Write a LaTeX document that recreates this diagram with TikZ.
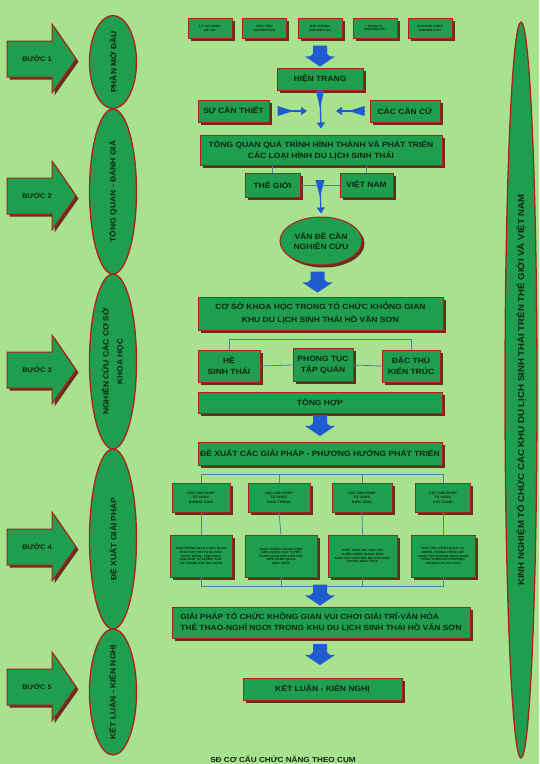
\documentclass[tikz,border=0pt]{standalone}
\usepackage{fontspec}
\setmainfont{Liberation Sans}[FakeStretch=1.12]
\usetikzlibrary{shapes.geometric,shadows,arrows.meta,calc}
\definecolor{bg}{RGB}{168,226,142}
\definecolor{boxg}{RGB}{30,158,78}
\definecolor{bord}{RGB}{175,32,28}
\definecolor{shad}{RGB}{105,45,28}
\definecolor{txt}{RGB}{14,38,14}
\definecolor{arrblue}{RGB}{32,92,208}
\definecolor{lineblue}{RGB}{78,128,165}
\tikzset{
  box/.style={draw=bord, line width=1pt, fill=boxg, text=txt, align=center, inner sep=0pt,
    font=\bfseries\fontsize{7.6}{11}\selectfont,
    drop shadow={shadow xshift=2.5pt, shadow yshift=-2.5pt, fill=shad, opacity=1}},
  tiny/.style={font=\bfseries\fontsize{3}{3.6}\selectfont},
  small/.style={font=\bfseries\fontsize{3.3}{4.2}\selectfont},
  stage/.style={ellipse, draw=bord, line width=1.3pt, fill=boxg, inner sep=0pt},
  stagetext/.style={text=txt, align=center, inner sep=0pt, rotate=90,
    font=\bfseries\fontsize{7.6}{14}\selectfont},
  conn/.style={draw=lineblue, line width=0.8pt},
  trunk/.style={draw=arrblue, line width=1.3pt, -{Triangle[length=6pt,width=8pt]}},
  stepshape/.style={draw=bord, line width=1pt, fill=boxg,
    drop shadow={shadow xshift=2.5pt, shadow yshift=-2.5pt, fill=shad, opacity=1}},
  steptext/.style={text=txt, font=\bfseries\fontsize{6.6}{8}\selectfont},
  steparrow/.pic={
    \path[stepshape] (7,-18) -- (52,-18) -- (52,-35) -- (76,0) -- (52,34) -- (52,18) -- (7,18) -- cycle;
    \node[steptext] (-t) at (37,0) {#1};
  },
  downarr/.pic={
    \fill[arrblue] (-7,-11) -- (7,-11) -- (7,-3) .. controls (9,0) .. (15,0) -- (0,10)
      -- (-15,0) .. controls (-9,0) .. (-7,-3) -- cycle;
  }
}
\begin{document}
\begin{tikzpicture}[x=1pt,y=-1pt]
\useasboundingbox (0,0) rectangle (539,764);
\fill[bg] (0,0) rectangle (539,764);

% left steps
\pic (s1) at (0,59) {steparrow={BƯỚC 1}};
\pic (s2) at (0,196) {steparrow={BƯỚC 2}};
\pic (s3) at (0,370) {steparrow={BƯỚC 3}};
\pic (s4) at (0,547) {steparrow={BƯỚC 4}};
\pic (s5) at (0,687) {steparrow={BƯỚC 5}};

% stage ellipses
\node[stage, minimum width=47pt, minimum height=93pt] (e1) at (113,62) {};
\node[stagetext] (e1t) at (e1) {PHẦN MỞ ĐẦU};
\node[stage, minimum width=47pt, minimum height=165pt] (e2) at (113,191.5) {};
\node[stagetext] (e2t) at (e2) {TỔNG QUAN - ĐÁNH GIÁ};
\node[stage, minimum width=47pt, minimum height=175pt] (e3) at (113,361.5) {};
\node[stagetext] (e3t) at (e3) {NGHIÊN CỨU CÁC CƠ SỞ\\KHOA HỌC};
\node[stage, minimum width=47pt, minimum height=180pt] (e4) at (113,539) {};
\node[stagetext] (e4t) at (e4) {ĐỀ XUẤT GIẢI PHÁP};
\node[stage, minimum width=47pt, minimum height=126pt] (e5) at (113,692) {};
\node[stagetext] (e5t) at (e5) {KẾT LUẬN - KIẾN NGHỊ};

% right ellipse
\node[stage, minimum width=32pt, minimum height=736pt] (rk) at (521,390) {};
\node[stagetext, font=\bfseries\fontsize{8.6}{10}\selectfont] (rkt) at (rk)
  {KINH NGHIỆM TỔ CHỨC CÁC KHU DU LỊCH SINH THÁI TRÊN THẾ GIỚI VÀ VIỆT NAM};

% top row
\node[box, tiny, minimum width=44pt, minimum height=20pt] (t1) at (210,28) {LÝ DO CHỌN\\ĐỀ TÀI};
\node[box, tiny, minimum width=44pt, minimum height=20pt] (t2) at (264.5,28) {MỤC TIÊU\\NGHIÊN CỨU};
\node[box, tiny, minimum width=44pt, minimum height=20pt] (t3) at (320,28) {ĐỐI TƯỢNG\\NGHIÊN CỨU};
\node[box, tiny, minimum width=44pt, minimum height=20pt] (t4) at (375,28) {PHẠM VI\\NGHIÊN CỨU};
\node[box, tiny, minimum width=44pt, minimum height=20pt] (t5) at (430,28) {PHƯƠNG PHÁP\\NGHIÊN CỨU};

\pic at (320,56.5) {downarr};

\node[box, minimum width=86pt, minimum height=22pt] (hien) at (320,79) {HIỆN TRANG};
\node[box, minimum width=71pt, minimum height=22pt] (sct) at (233.5,111) {SỰ CẦN THIẾT};
\node[box, minimum width=70pt, minimum height=22pt] (ccc) at (405,111) {CÁC CĂN CỨ};
\node[box, minimum width=242pt, minimum height=30pt] (tong) at (321,150)
  {TỔNG QUAN QUÁ TRÌNH HÌNH THÀNH VÀ PHÁT TRIỂN\\CÁC LOẠI HÌNH DU LỊCH SINH THÁI};

% trunk and side arrows
\coordinate (j1) at (320,111);
\fill[arrblue] ([xshift=-4pt]hien.south) -- ([xshift=4pt]hien.south) -- ($(hien.south)+(0,18)$) -- cycle;
\draw[trunk] (hien.south) -- ([yshift=6pt]tong.north);
\fill[arrblue] ($(sct.east)+(8,-5)$) -- ($(sct.east)+(8,5)$) -- ($(sct.east)+(24,0)$) -- cycle;
\draw[trunk] ($(sct.east)+(8,0)$) -- ([xshift=-13pt]j1);
\fill[arrblue] ($(ccc.west)+(-5,-5)$) -- ($(ccc.west)+(-5,5)$) -- ($(ccc.west)+(-21,0)$) -- cycle;
\draw[trunk] ($(ccc.west)+(-5,0)$) -- ([xshift=16pt]j1);

\node[box, minimum width=55pt, minimum height=24pt] (tg) at (272.5,185) {THẾ GIỚI};
\node[box, minimum width=53pt, minimum height=24pt] (vn) at (366.5,185) {VIỆT NAM};
\node[box, ellipse, minimum width=82pt, minimum height=48pt, font=\bfseries\fontsize{7.6}{10}\selectfont] (vdc) at (321,241) {VẤN ĐỀ CẦN\\NGHIÊN CỨU};

\draw[conn] (tg.north) -- (tg.north |- tong.south);
\draw[conn] (vn.north) -- (vn.north |- tong.south);
\draw[conn] (tg.east) -- (vn.west);
\coordinate (j2) at (320,185);
\fill[arrblue] ($(j2)+(-4.5,-5)$) -- ($(j2)+(4.5,-5)$) -- ($(j2)+(0,12)$) -- cycle;
\draw[trunk] (j2) -- ([yshift=3pt]vdc.north);

\pic at (317.5,282.5) {downarr};

\node[box, minimum width=245pt, minimum height=33pt, font=\bfseries\fontsize{7.6}{12.5}\selectfont] (cskh) at (320.5,313.5)
  {CƠ SỞ KHOA HỌC TRONG TỔ CHỨC KHÔNG GIAN\\KHU DU LỊCH SINH THÁI HỒ VĂN SƠN};
\node[box, minimum width=62pt, minimum height=32pt] (he) at (229,366) {HỆ\\SINH THÁI};
\node[box, minimum width=60pt, minimum height=33pt] (pt) at (323,365) {PHONG TỤC\\TẬP QUÁN};
\node[box, minimum width=58pt, minimum height=32pt] (dt) at (411,366) {ĐẶC THÙ\\KIẾN TRÚC};
\draw[conn] (he.north) -- ++(0,-10) -| (dt.north);
\draw[conn] (he.east) -- (pt.west);
\draw[conn] (pt.east) -- (dt.west);

\node[box, minimum width=244pt, minimum height=21pt] (th) at (320,402.5) {TỔNG HỢP};
\pic at (320,426) {downarr};
\node[box, minimum width=244pt, minimum height=23pt] (dx) at (320,453.5) {ĐỀ XUẤT CÁC GIẢI PHÁP - PHƯƠNG HƯỚNG PHÁT TRIỂN};

% step 4 boxes
\node[box, small, minimum width=58pt, minimum height=29pt] (a1) at (201,497.5) {CÁC GIẢI PHÁP\\TỔ CHỨC\\KHÔNG GIAN};
\node[box, small, minimum width=62pt, minimum height=29pt] (a2) at (279,497.5) {CÁC GIẢI PHÁP\\TỔ CHỨC\\GIAO THÔNG};
\node[box, small, minimum width=60pt, minimum height=29pt] (a3) at (362,497.5) {CÁC GIẢI PHÁP\\TỔ CHỨC\\KIẾN TRÚC};
\node[box, small, minimum width=55pt, minimum height=29pt] (a4) at (443,497.5) {CÁC GIẢI PHÁP\\TỔ CHỨC\\CÂY XANH};
\node[box, tiny, minimum width=62pt, minimum height=42pt] (b1) at (201,556)
  {TẠO KHÔNG GIAN CẢNH QUAN\\PHÙ HỢP VỚI TỪNG KHU\\CHỨC NĂNG, TẬN DỤNG\\ĐỊA HÌNH TỰ NHIÊN, TẠO\\SỰ PHONG PHÚ ĐA DẠNG};
\node[box, tiny, minimum width=72pt, minimum height=42pt] (b2) at (281,556)
  {GIAO THÔNG THUẬN TIỆN\\LIÊN HOÀN, TẠO TUYẾN\\THAM QUAN HẤP DẪN KẾT\\HỢP CẢNH QUAN\\KIẾN TRÚC};
\node[box, tiny, minimum width=69pt, minimum height=42pt] (b3) at (362.5,556)
  {KIẾN TRÚC HÀI HÒA VỚI\\THIÊN NHIÊN, MANG ĐẬM\\BẢN SẮC VĂN HÓA ĐỊA PHƯƠNG\\TRONG KIẾN TRÚC};
\node[box, tiny, minimum width=64pt, minimum height=42pt] (b4) at (443,556)
  {BẢO TỒN CẢNH QUAN TỰ\\NHIÊN, TRỒNG THÊM CÂY\\XANH TẠO KHÔNG GIAN XANH\\THÂN THIỆN MÔI TRƯỜNG\\TRONG KHU DU LỊCH};

\draw[conn] (a1.north) -- ++(0,-8) -| (a4.north);
\draw[conn] (a2.north) -- ++(0,-8);
\draw[conn] (a3.north) -- ++(0,-8);
\foreach \i in {1,2,3,4} { \draw[conn] (a\i.south) -- (b\i.north); }
\draw[conn] (b1.south) -- ++(0,9) -| (b4.south);
\draw[conn] (b2.south) -- ++(0,9);
\draw[conn] (b3.south) -- ++(0,9);

\begin{scope}[shift={(320,595.5)}, yscale=0.5]
  \pic at (0,0) {downarr};
\end{scope}

\node[box, minimum width=298pt, minimum height=31pt, align=left, font=\bfseries\fontsize{7.5}{11.5}\selectfont] (gp) at (321,622.5)
  {GIẢI PHÁP TỔ CHỨC KHÔNG GIAN VUI CHƠI GIẢI TRÍ-VĂN HÓA\\THỂ THAO-NGHỈ NGƠI TRONG KHU DU LỊCH SINH THÁI HỒ VĂN SƠN};
\pic at (320,655) {downarr};
\node[box, minimum width=159pt, minimum height=22pt] (kl) at (322.5,689) {KẾT LUẬN - KIẾN NGHỊ};

\node[text=txt, font=\bfseries\fontsize{7.3}{8}\selectfont] (cap) at (283,760) {SĐ CƠ CẤU CHỨC NĂNG THEO CỤM};
\end{tikzpicture}
\end{document}
